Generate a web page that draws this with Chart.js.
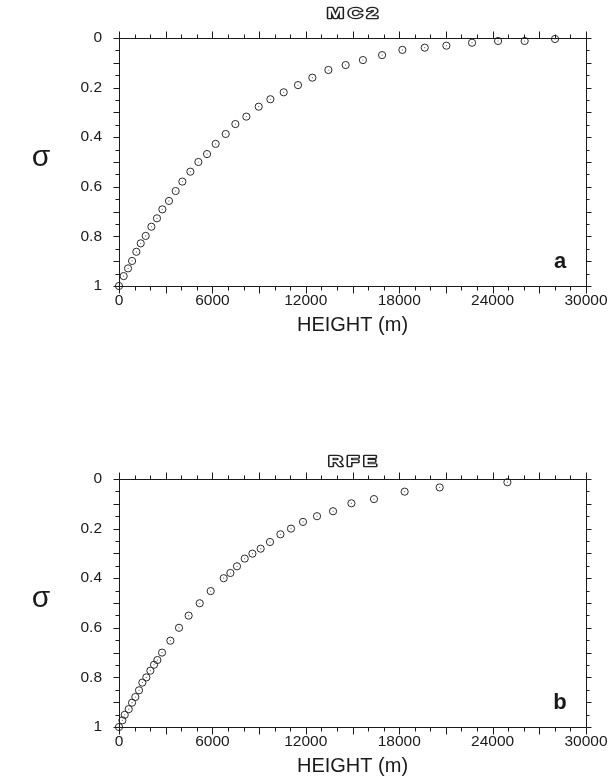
<!DOCTYPE html>
<html>
<head>
<meta charset="utf-8">
<script src="https://cdn.jsdelivr.net/npm/chart.js@4/dist/chart.umd.min.js"></script>
<style>
  html, body { margin: 0; padding: 0; background: #fff; }
  body { width: 608px; height: 778px; position: relative; overflow: hidden; }
  .panel { position: absolute; left: 0; width: 608px; height: 337px; }
  #panelA { top: 0; }
  #panelB { top: 441px; }
</style>
</head>
<body>
<div class="panel" id="panelA"><canvas id="mc2"></canvas></div>
<div class="panel" id="panelB"><canvas id="rfe"></canvas></div>
<script>
/* ── Data ────────────────────────────────────────────────── */
const mc2Height = [0, 300, 580, 840, 1115, 1395, 1715, 2080, 2440, 2785, 3210, 3640, 4070,
    4585, 5100, 5655, 6210, 6855, 7475, 8180, 8975, 9725, 10580, 11500, 12420, 13450,
    14560, 15670, 16900, 18205, 19640, 21030, 22680, 24350, 26060, 28010];
const mc2Sigma = [1.0, 0.96, 0.929, 0.899, 0.862, 0.828, 0.798, 0.761, 0.727, 0.691, 0.657,
    0.617, 0.579, 0.539, 0.5, 0.468, 0.427, 0.387, 0.347, 0.317, 0.277, 0.247, 0.219, 0.19,
    0.16, 0.129, 0.109, 0.089, 0.069, 0.048, 0.039, 0.031, 0.019, 0.012, 0.012, 0.004];

const rfeHeight = [0, 218, 366, 623, 837, 1050, 1285, 1500, 1755, 2015, 2250, 2465, 2765,
    3300, 3855, 4475, 5185, 5890, 6725, 7155, 7580, 8075, 8570, 9100, 9700, 10370, 11050,
    11820, 12720, 13750, 14930, 16380, 18350, 20600, 24950];
const rfeSigma = [1.0, 0.973, 0.951, 0.928, 0.902, 0.879, 0.852, 0.821, 0.8, 0.773, 0.749,
    0.73, 0.7, 0.652, 0.6, 0.551, 0.501, 0.452, 0.4, 0.379, 0.352, 0.321, 0.301, 0.281, 0.254,
    0.223, 0.2, 0.173, 0.15, 0.13, 0.098, 0.081, 0.051, 0.034, 0.013];

const heightRange = [0, 30000];
const heightLabelStep = 6000;
const heightMinorStep = 1000;
const sigmaRange = [0, 1];
const sigmaLabelStep = 0.2;
const sigmaMinorStep = 0.05;

const INK = '#1a1a1a';
const FONT = '"Liberation Sans", Arial, sans-serif';

/* ── Frame + minor ticks on all four sides ───────────────── */
const frameTicks = {
    id: 'frameTicks',
    afterDraw(chart) {
        const { ctx, chartArea: a, scales: { x, y } } = chart;
        const L = Math.round(a.left) + 0.5, R = Math.round(a.right) + 0.5;
        const T = Math.round(a.top) + 0.5, B = Math.round(a.bottom) + 0.5;
        ctx.save();
        ctx.strokeStyle = INK;
        ctx.lineWidth = 1;
        ctx.beginPath();
        ctx.rect(L, T, R - L, B - T);
        const nx = Math.round((heightRange[1] - heightRange[0]) / heightMinorStep);
        for (let i = 0; i <= nx; i++) {
            const px = Math.round(x.getPixelForValue(heightRange[0] + i * heightMinorStep)) + 0.5;
            const len = i % 3 === 0 ? 7 : 4;
            ctx.moveTo(px, B); ctx.lineTo(px, B + len);
            ctx.moveTo(px, T); ctx.lineTo(px, T - len);
        }
        const ny = Math.round((sigmaRange[1] - sigmaRange[0]) / sigmaMinorStep);
        for (let i = 0; i <= ny; i++) {
            const py = Math.round(y.getPixelForValue(sigmaRange[0] + i * sigmaMinorStep)) + 0.5;
            const len = i % 2 === 0 ? 6 : 4;
            ctx.moveTo(L, py); ctx.lineTo(L - len, py);
            ctx.moveTo(R, py); ctx.lineTo(R + len - 1, py);
        }
        ctx.stroke();
        ctx.restore();
    },
};

/* ── Titles, axis names, panel letter ────────────────────── */
const annotations = {
    id: 'annot',
    afterDraw(chart, args, opts) {
        const { ctx, chartArea: a } = chart;
        const cx = (a.left + a.right) / 2;
        ctx.save();
        // outlined, stretched title
        ctx.save();
        ctx.translate(cx + 2, opts.titleY);
        ctx.scale(1.35, 1);
        ctx.font = 'bold 15px ' + FONT;
        ctx.letterSpacing = '3px';
        ctx.textAlign = 'center';
        ctx.textBaseline = 'middle';
        ctx.lineJoin = 'round';
        ctx.lineWidth = 2.4;
        ctx.strokeStyle = '#222';
        ctx.strokeText(opts.title, 0, 0);
        ctx.fillStyle = '#fff';
        ctx.fillText(opts.title, 0, 0);
        ctx.restore();
        // axis names
        ctx.textAlign = 'center';
        ctx.textBaseline = 'middle';
        ctx.fillStyle = INK;
        ctx.font = '20px ' + FONT;
        ctx.fillText('HEIGHT (m)', cx, a.bottom + 39);
        ctx.font = '30px ' + FONT;
        ctx.fillText('σ', 41, (a.top + a.bottom) / 2 - 4);
        // panel letter
        ctx.font = 'bold 22px ' + FONT;
        ctx.fillText(opts.letter, a.right - 26, a.bottom - 24);
        ctx.restore();
    },
};

function initSigmaChart(canvasId, heights, sigmas, title, titleY, letter) {
    const canvas = document.getElementById(canvasId);
    const pts = heights.map((h, i) => ({ x: h, y: sigmas[i] }));

    return new Chart(canvas.getContext('2d'), {
        type: 'scatter',
        data: {
            datasets: [
                {
                    data: pts,
                    pointRadius: 3.6,
                    pointBorderWidth: 1,
                    pointBorderColor: '#2a2a2a',
                    pointBackgroundColor: 'rgba(0,0,0,0)',
                    clip: false,
                },
                {
                    data: pts,
                    pointRadius: 0.6,
                    pointBorderWidth: 0,
                    pointBackgroundColor: '#666',
                    clip: false,
                },
            ],
        },
        options: {
            responsive: true,
            maintainAspectRatio: false,
            animation: false,
            events: [],
            layout: { padding: { top: 38, right: 22, left: 0, bottom: 0 } },
            plugins: {
                legend: { display: false },
                tooltip: { enabled: false },
                annot: { title, titleY, letter },
            },
            scales: {
                x: {
                    type: 'linear',
                    min: heightRange[0],
                    max: heightRange[1],
                    grid: { display: false, drawTicks: false },
                    border: { display: false },
                    ticks: {
                        stepSize: heightLabelStep,
                        padding: 5,
                        color: INK,
                        font: { family: FONT, size: 15.5 },
                        maxRotation: 0,
                        callback: v => String(v),
                    },
                    afterFit(scale) {
                        scale.height = 51;
                        scale.paddingLeft = 0;
                        scale.paddingRight = 0;
                    },
                },
                y: {
                    type: 'linear',
                    reverse: true,
                    min: sigmaRange[0],
                    max: sigmaRange[1],
                    grid: { display: false, drawTicks: false },
                    border: { display: false },
                    ticks: {
                        stepSize: sigmaLabelStep,
                        padding: 17,
                        color: INK,
                        font: { family: FONT, size: 15.5 },
                        callback: v => String(+v.toFixed(2)),
                    },
                    afterFit(scale) {
                        scale.width = 119;
                        scale.paddingTop = 0;
                        scale.paddingBottom = 0;
                    },
                },
            },
        },
        plugins: [frameTicks, annotations],
    });
}

initSigmaChart('mc2', mc2Height, mc2Sigma, 'MC2', 13.5, 'a');
initSigmaChart('rfe', rfeHeight, rfeSigma, 'RFE', 21, 'b');
</script>
</body>
</html>
